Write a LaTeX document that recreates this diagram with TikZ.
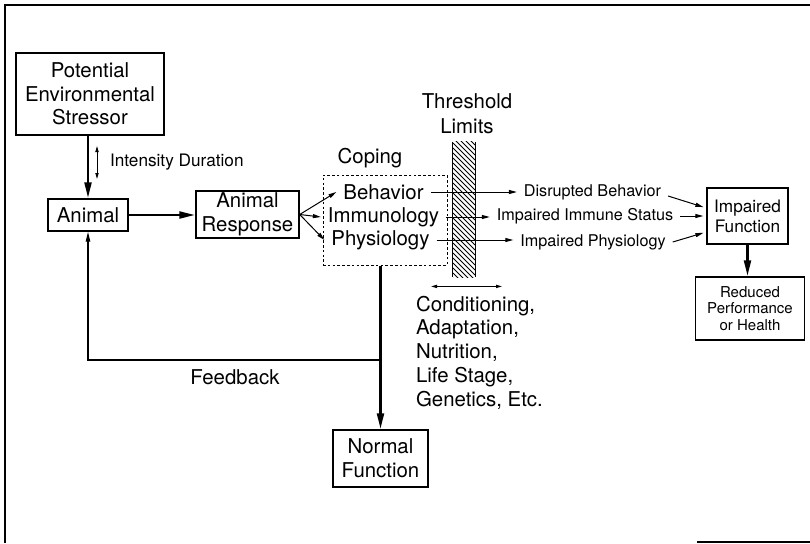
\documentclass[tikz,border=0pt]{standalone}
\usepackage{fontspec}
\setmainfont{TeX Gyre Heros}
\usetikzlibrary{arrows.meta}

\begin{document}
\begin{tikzpicture}[%
    x=0.5pt, y=-0.5pt,                  % work in scan pixels, y grows downward
    >={Triangle[length=4pt,width=2pt]}, % small tips for the thin lines
    ]
% -------------------------------------------------
% Box, text and connector styles
\tikzset{
  box/.style={draw, line width=0.7pt, align=center, inner sep=1pt},
  big/.style={font=\fontsize{10.2}{11.8}\selectfont},
  mid/.style={font=\fontsize{8.6}{10}\selectfont},
  small/.style={font=\fontsize{8.1}{9}\selectfont},
  tiny/.style={font=\fontsize{7.5}{8.3}\selectfont},
  heavy/.style={-{Triangle[length=8pt,width=3.4pt]}, line width=1.3pt},
  light/.style={->, line width=0.5pt},
}
\useasboundingbox (0,0) rectangle (810,543);
% outer frame of the scan
\draw[line width=1pt] (810,5) -- (5,5) -- (5,543);
\draw[line width=1pt] (697,542) -- (810,542);
% -------------------------------------------------
% Start by placing the nodes
\node [box, big, minimum width=74pt, minimum height=41pt] (stressor) at (90,94)
  {Potential\\Environmental\\Stressor};
\node [box, big, minimum width=40pt, minimum height=16pt] (animal) at (88,215) {Animal};
\node [box, big, minimum width=51.5pt, minimum height=23.5pt] (resp) at (247.5,214.5)
  {Animal\\Response};
\node [small, anchor=west, font=\fontsize{8.6}{10}\selectfont] (intens) at (103,162)
  {Intensity Duration};

% coping box with its three responses
\node [draw, dashed, dash pattern=on 1.3pt off 1.1pt, line width=0.5pt,
  minimum width=62pt, minimum height=45pt] (coping) at (385,220) {};
\node [big] (copelbl) at (370,158) {Coping};
\node [big] (behav) at (383.5,192) {Behavior};
\node [big] (immu) at (383.5,217) {Immunology};
\node [big] (phys) at (380.5,240) {Physiology};

% threshold bar
\node [big, align=center, font=\fontsize{10.2}{12.5}\selectfont] (thresh) at (467,114)
  {Threshold\\Limits};
\node [minimum width=11pt, minimum height=67.5pt, inner sep=0pt] (bar) at (464,209.5) {};
\begin{scope}
  \clip (bar.north west) rectangle (bar.south east);
  \foreach \y in {118,123,...,280}
    \draw[line width=0.5pt] (453,\y) -- ++(22,22);
\end{scope}
\draw[line width=0.8pt] (bar.north west) -- (bar.south west)
  (bar.north east) -- (bar.south east);
\draw[<->, >={Triangle[length=3pt,width=1.6pt]}, line width=0.5pt]
  ([yshift=-4.5pt]bar.south) ++(-33,0) -- ++(71,0);
\node [big, anchor=west, align=left, font=\fontsize{10.2}{11.9}\selectfont] (factors)
  at (409,352.5)
  {Conditioning,\\Adaptation,\\Nutrition,\\Life Stage,\\Genetics, Etc.};

% outcomes
\node [small] (disr) at (592.5,192) {Disrupted Behavior};
\node [small] (immst) at (585,216) {Impaired Immune Status};
\node [small] (impphys) at (593,242) {Impaired Physiology};
\node [box, mid, minimum width=40.5pt, minimum height=28pt] (impair) at (747.5,216)
  {Impaired\\Function};
\node [box, tiny, minimum width=54.5pt, minimum height=31.5pt] (reduced) at (750,308.5)
  {Reduced\\Performance\\or Health};
\node [box, big, minimum width=47.5pt, minimum height=28.5pt] (normal) at (380.5,458.5)
  {Normal\\Function};
\node [big] (fblbl) at (235,377) {Feedback};
\coordinate (fb) at (380.5,360);

% -------------------------------------------------
% Connectors
\draw [heavy] (stressor.south -| animal.north) -- (animal.north);
\draw [<->, line width=0.5pt, >={Triangle[length=3pt,width=1.6pt]}]
  ([xshift=-3pt,yshift=8pt]intens.west) -- ([xshift=-3pt,yshift=-8.5pt]intens.west);
\draw [heavy] (animal.east) -- (animal.east -| resp.west);
\draw [light] (resp.east) -- (behav.west);
\draw [light] (resp.east) -- (immu.west);
\draw [light] (resp.east) -- (phys.west);

\draw [light] (behav.east) -- (behav.east -| disr.west);
\draw [light] (immu.east) -- (immu.east -| immst.west);
\draw [light] (phys.east) -- (phys.east -| impphys.west);

\draw [light, shorten >=1.5pt] ([yshift=-2pt]disr.east) -- ([yshift=4pt]impair.west);
\draw [light, shorten >=1.5pt] (immst.east) -- (immst.east -| impair.west);
\draw [light, shorten >=1.5pt] (impphys.east) -- ([yshift=-8pt]impair.west);
\draw [heavy] (impair.south) -- (impair.south |- reduced.north);

\draw [heavy] (normal.north |- coping.south) -- (normal.north);
\draw [line width=0.6pt, -{Triangle[length=5pt,width=2.2pt]}] (fb) -| (animal.south);
% -------------------------------------------------
\end{tikzpicture}
\end{document}
